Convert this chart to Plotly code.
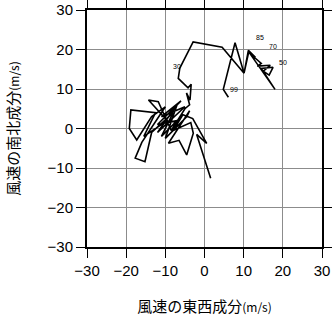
import plotly.graph_objects as go

# Hodograph: east-west (u) and north-south (v) wind components, surface upward
u = [6.1, 4.8, 7.8, 10.1, 11.2, 13.0, 11.8, 13.8, 12.5, 14.5, 13.5, 16.8, 15.0, 16.5,
     17.5, 14.5, 18.0, 11.3, 10.1, 4.5, -2.9, -6.3, -6.7, -4.2, -3.4, -3.7, -4.6, -3.8,
     -5.0, -8.5, -11.8, -14.3, -9.5, -15.5, -12.5, -18.8, -19.2, -17.3, -13.5, -10.0,
     -16.0, -17.7, -15.2, -13.5, -8.0, -11.0, -7.0, -12.0, -6.0, -11.0, -5.0, -12.0,
     -7.0, -10.0, -4.5, -3.8, -9.2, -6.5, -4.55, -2.86, -3.5, -8.0, -5.5, -3.0, 0.56,
     -2.0, 1.57]
v = [7.9, 9.9, 21.7, 14.0, 19.8, 18.0, 18.8, 17.2, 18.2, 16.5, 15.8, 16.0, 14.5, 13.5,
     15.5, 15.2, 9.9, 19.4, 14.0, 20.6, 21.9, 15.3, 12.7, 10.3, 11.2, 7.2, 9.0, 6.0,
     5.0, -0.5, 6.8, 7.2, 2.0, -2.0, 4.0, 4.7, 0.0, -2.9, 3.0, 5.5, -3.5, -7.5, -8.4,
     -1.0, 4.0, -2.0, 2.0, 1.0, 7.0, 3.0, 5.5, -1.0, 6.0, -2.5, 3.0, 4.5, -3.75, -3.0,
     -6.7, -1.2, 1.5, -0.5, 3.5, 2.5, -3.75, -1.5, -12.6]

level_labels = ["99", "85", "70", "50", "30"]
label_u = [6.1, 12.7, 16.0, 18.4, -8.6]
label_v = [8.6, 21.6, 19.3, 15.4, 14.3]

ticks = [-30, -20, -10, 0, 10, 20, 30]

fig = go.Figure()
fig.add_trace(go.Scatter(x=u, y=v, mode="lines",
                         line=dict(color="black", width=1.6), hoverinfo="skip"))

for t, x, y in zip(level_labels, label_u, label_v):
    fig.add_annotation(x=x, y=y, text=t, showarrow=False, xanchor="left", yanchor="bottom",
                       font=dict(size=7, color="#000000", family="Liberation Sans"))

axis_common = dict(range=[-30, 30], tickvals=ticks, showgrid=True, gridcolor="#8c8c8c",
                   gridwidth=1, zeroline=False, showline=True, linecolor="black",
                   linewidth=2, mirror="ticks", ticks="outside", ticklen=9,
                   tickcolor="black", tickwidth=1, automargin=False,
                   tickfont=dict(size=15, family="Liberation Sans", color="black"))

fig.update_layout(
    template="none",
    width=332, height=319,
    margin=dict(l=87, r=10, t=10, b=72),
    paper_bgcolor="white", plot_bgcolor="white",
    showlegend=False,
    xaxis=dict(**axis_common,
               title=dict(text="風速の東西成分<span style='font-size:12px'>(m/s)</span>",
                          font=dict(size=15, family="Noto Sans CJK JP", color="black"),
                          standoff=23)),
    yaxis=dict(**axis_common,
               title=dict(text="風速の南北成分<span style='font-size:12px'>(m/s)</span>",
                          font=dict(size=15, family="Noto Sans CJK JP", color="black"),
                          standoff=24)),
)

fig.write_html("out.html")
